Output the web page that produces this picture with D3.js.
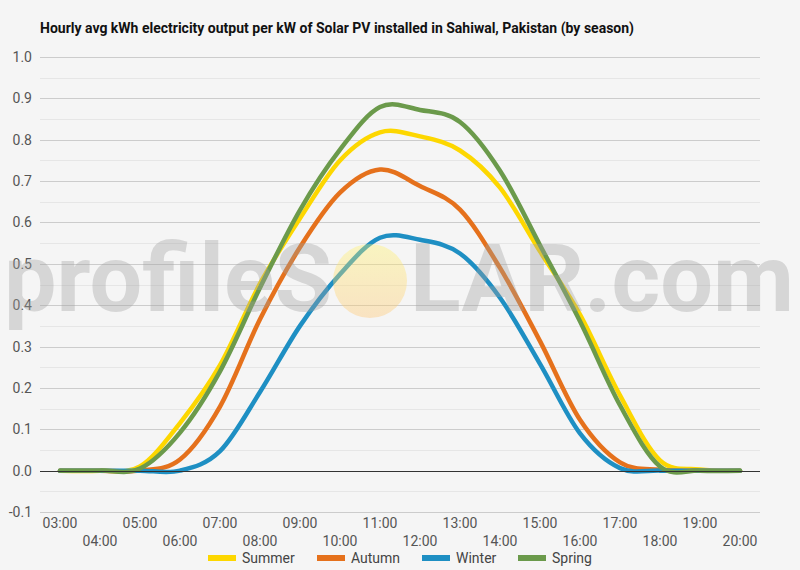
<!DOCTYPE html>
<html>
<head>
<meta charset="utf-8">
<script src="https://cdn.jsdelivr.net/npm/d3@7"></script>
<style>
  html, body { margin: 0; padding: 0; background: #f5f5f5; }
  svg { display: block; font-family: Roboto, "Noto Sans", sans-serif; }
</style>
</head>
<body>
<svg id="chart" width="800" height="570"></svg>
<script>
// ---- data ----
const hours = ["03:00","04:00","05:00","06:00","07:00","08:00","09:00","10:00","11:00","12:00",
               "13:00","14:00","15:00","16:00","17:00","18:00","19:00","20:00"];
const summer = [0, 0, 0.01, 0.115, 0.255, 0.452, 0.61, 0.75, 0.818, 0.808, 0.774, 0.684, 0.53, 0.377, 0.182, 0.025, 0.003, 0];
const autumn = [0, 0, 0, 0.027, 0.155, 0.366, 0.54, 0.672, 0.728, 0.688, 0.631, 0.49, 0.313, 0.123, 0.02, 0.002, 0, 0];
const winter = [0, 0, 0, 0, 0.047, 0.19, 0.35, 0.475, 0.563, 0.558, 0.525, 0.418, 0.258, 0.09, 0.006, 0, 0, 0];
const spring = [0, 0, 0.005, 0.092, 0.24, 0.442, 0.63, 0.776, 0.879, 0.872, 0.843, 0.725, 0.545, 0.361, 0.158, 0.01, 0, 0];
const seriesNames = ["Summer", "Autumn", "Winter", "Spring"];
const seriesColors = ["#fdd700", "#e5711c", "#1e8fc3", "#6b9a4b"];
const yTicks = [-0.1, 0, 0.1, 0.2, 0.3, 0.4, 0.5, 0.6, 0.7, 0.8, 0.9, 1.0];
const title = "Hourly avg kWh electricity output per kW of Solar PV installed in Sahiwal, Pakistan (by season)";

const seriesValues = [summer, autumn, winter, spring];
const series = seriesNames.map((n, i) => ({ name: n, color: seriesColors[i], values: seriesValues[i] }));

// ---- layout ----
const svg = d3.select("#chart");
const L = 40, R = 760, T = 57, B = 512;

svg.append("rect").attr("width", 800).attr("height", 570).attr("fill", "#f5f5f5");

const x = d3.scalePoint().domain(hours).range([L, R]).padding(0.5);
const y = d3.scaleLinear().domain([-0.1, 1.0]).range([B, T]);

// minor gridlines
const minor = d3.range(-0.05, 1.0, 0.1);
svg.append("g").selectAll("line").data(minor).join("line")
  .attr("x1", L).attr("x2", R)
  .attr("y1", d => Math.round(y(d)) + 0.5).attr("y2", d => Math.round(y(d)) + 0.5)
  .attr("stroke", "#e6e6e6").attr("stroke-width", 1);

// major gridlines
svg.append("g").selectAll("line").data(yTicks.filter(d => d !== 0)).join("line")
  .attr("x1", L).attr("x2", R)
  .attr("y1", d => Math.round(y(d)) + 0.5).attr("y2", d => Math.round(y(d)) + 0.5)
  .attr("stroke", "#cccccc").attr("stroke-width", 1);

// y axis labels
svg.append("g").selectAll("text").data(yTicks).join("text")
  .attr("x", 32).attr("y", d => y(d) + 5)
  .attr("text-anchor", "end")
  .attr("font-size", 14).attr("fill", "#555")
  .text(d => d.toFixed(1));

// x axis labels (alternating rows)
svg.append("g").selectAll("text").data(hours).join("text")
  .attr("x", d => x(d))
  .attr("y", (d, i) => i % 2 === 0 ? 528 : 546)
  .attr("text-anchor", "middle")
  .attr("font-size", 14).attr("fill", "#555")
  .text(d => d);

// lines
const line = d3.line()
  .x((d, i) => x(hours[i]))
  .y(d => y(d))
  .curve(d3.curveCardinal.tension(0));

svg.append("g").selectAll("path").data(series).join("path")
  .attr("d", d => line(d.values))
  .attr("fill", "none")
  .attr("stroke", d => d.color)
  .attr("stroke-width", 4.5)
  .attr("stroke-linejoin", "round")
  .attr("stroke-linecap", "round");

// zero baseline on top of lines
svg.append("line")
  .attr("x1", L).attr("x2", R)
  .attr("y1", Math.round(y(0)) + 0.5).attr("y2", Math.round(y(0)) + 0.5)
  .attr("stroke", "#333").attr("stroke-width", 1);

// watermark (overlay)
const defs = svg.append("defs");
const grad = defs.append("linearGradient").attr("id", "sun").attr("x1", 0).attr("y1", 0).attr("x2", 0).attr("y2", 1);
grad.append("stop").attr("offset", "0%").attr("stop-color", "#fff36a");
grad.append("stop").attr("offset", "100%").attr("stop-color", "#ffc46e");

const wm = svg.append("g").attr("pointer-events", "none");
wm.append("circle").attr("cx", 370).attr("cy", 281).attr("r", 37)
  .attr("fill", "url(#sun)").attr("opacity", 0.38);
wm.append("text").attr("x", 4).attr("y", 311)
  .attr("font-size", 94).attr("font-weight", 700)
  .attr("fill", "#a0a0a0").attr("opacity", 0.36)
  .attr("textLength", 328).attr("lengthAdjust", "spacingAndGlyphs")
  .text("profileS");
wm.append("text").attr("x", 410).attr("y", 311)
  .attr("font-size", 94).attr("font-weight", 700)
  .attr("fill", "#a0a0a0").attr("opacity", 0.36)
  .attr("textLength", 384).attr("lengthAdjust", "spacingAndGlyphs")
  .text("LAR.com");

// title
svg.append("text").attr("x", 40).attr("y", 33)
  .attr("font-size", 14).attr("font-weight", 700).attr("fill", "#111")
  .text(title);

// legend
const legendX = [208, 317, 422, 518];
const lg = svg.append("g").selectAll("g").data(series).join("g")
  .attr("transform", (d, i) => `translate(${legendX[i]},558)`);
lg.append("line").attr("x1", 0).attr("x2", 28).attr("y1", 0).attr("y2", 0)
  .attr("stroke", d => d.color).attr("stroke-width", 6);
lg.append("text").attr("x", 34).attr("y", 5)
  .attr("font-size", 14).attr("fill", "#444")
  .text(d => d.name);
</script>
</body>
</html>
